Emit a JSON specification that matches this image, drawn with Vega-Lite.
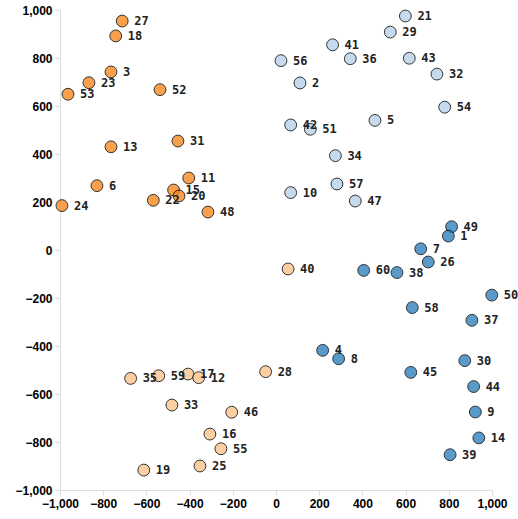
{
  "$schema": "https://vega.github.io/schema/vega-lite/v6.json",
  "width": 432,
  "height": 480,
  "autosize": "none",
  "padding": {"left": 60, "top": 10, "right": 26, "bottom": 29},
  "background": "white",
  "config": {"view": {"stroke": null}},
  "data": {"values": [
    {"id": "27", "x": -712, "y": 954, "g": "A"},
    {"id": "18", "x": -742, "y": 892, "g": "A"},
    {"id": "3", "x": -764, "y": 742, "g": "A"},
    {"id": "23", "x": -866, "y": 697, "g": "A"},
    {"id": "53", "x": -963, "y": 649, "g": "A"},
    {"id": "52", "x": -537, "y": 668, "g": "A"},
    {"id": "31", "x": -454, "y": 454, "g": "A"},
    {"id": "13", "x": -764, "y": 430, "g": "A"},
    {"id": "6", "x": -829, "y": 268, "g": "A"},
    {"id": "11", "x": -404, "y": 300, "g": "A"},
    {"id": "15", "x": -474, "y": 250, "g": "A"},
    {"id": "20", "x": -449, "y": 225, "g": "A"},
    {"id": "22", "x": -568, "y": 207, "g": "A"},
    {"id": "48", "x": -315, "y": 158, "g": "A"},
    {"id": "24", "x": -991, "y": 185, "g": "A"},
    {"id": "21", "x": 599, "y": 975, "g": "B"},
    {"id": "29", "x": 529, "y": 908, "g": "B"},
    {"id": "41", "x": 262, "y": 855, "g": "B"},
    {"id": "56", "x": 23, "y": 789, "g": "B"},
    {"id": "36", "x": 344, "y": 797, "g": "B"},
    {"id": "43", "x": 617, "y": 799, "g": "B"},
    {"id": "32", "x": 745, "y": 733, "g": "B"},
    {"id": "2", "x": 111, "y": 696, "g": "B"},
    {"id": "54", "x": 781, "y": 595, "g": "B"},
    {"id": "42", "x": 68, "y": 521, "g": "B"},
    {"id": "51", "x": 159, "y": 503, "g": "B"},
    {"id": "5", "x": 458, "y": 540, "g": "B"},
    {"id": "34", "x": 275, "y": 393, "g": "B"},
    {"id": "57", "x": 282, "y": 275, "g": "B"},
    {"id": "10", "x": 68, "y": 239, "g": "B"},
    {"id": "47", "x": 367, "y": 204, "g": "B"},
    {"id": "49", "x": 813, "y": 97, "g": "C"},
    {"id": "1", "x": 798, "y": 58, "g": "C"},
    {"id": "7", "x": 670, "y": 5, "g": "C"},
    {"id": "26", "x": 705, "y": -50, "g": "C"},
    {"id": "60", "x": 406, "y": -85, "g": "C"},
    {"id": "38", "x": 560, "y": -94, "g": "C"},
    {"id": "50", "x": 999, "y": -188, "g": "C"},
    {"id": "58", "x": 631, "y": -240, "g": "C"},
    {"id": "37", "x": 907, "y": -293, "g": "C"},
    {"id": "4", "x": 216, "y": -418, "g": "C"},
    {"id": "8", "x": 290, "y": -453, "g": "C"},
    {"id": "30", "x": 874, "y": -461, "g": "C"},
    {"id": "45", "x": 624, "y": -510, "g": "C"},
    {"id": "44", "x": 915, "y": -569, "g": "C"},
    {"id": "9", "x": 923, "y": -675, "g": "C"},
    {"id": "14", "x": 939, "y": -783, "g": "C"},
    {"id": "39", "x": 806, "y": -853, "g": "C"},
    {"id": "40", "x": 56, "y": -79, "g": "D"},
    {"id": "28", "x": -48, "y": -507, "g": "D"},
    {"id": "35", "x": -673, "y": -535, "g": "D"},
    {"id": "59", "x": -543, "y": -524, "g": "D"},
    {"id": "17", "x": -407, "y": -517, "g": "D"},
    {"id": "12", "x": -358, "y": -532, "g": "D"},
    {"id": "33", "x": -482, "y": -646, "g": "D"},
    {"id": "46", "x": -205, "y": -676, "g": "D"},
    {"id": "16", "x": -306, "y": -767, "g": "D"},
    {"id": "55", "x": -255, "y": -828, "g": "D"},
    {"id": "25", "x": -352, "y": -900, "g": "D"},
    {"id": "19", "x": -612, "y": -917, "g": "D"}
  ]},
  "encoding": {
    "x": {"field": "x", "type": "quantitative", "scale": {"domain": [-1000, 1000], "nice": false, "zero": false},
      "axis": {"title": null, "grid": false, "values": [-1000, -800, -600, -400, -200, 0, 200, 400, 600, 800, 1000], "format": ",.0f", "labelOverlap": false, "labelFlush": false, "domainColor": "#ddd", "tickColor": "#ddd", "labelFont": "Liberation Sans", "labelFontWeight": "bold", "labelFontSize": 12, "labelColor": "#000", "labelPadding": 3}},
    "y": {"field": "y", "type": "quantitative", "scale": {"domain": [-1000, 1000], "nice": false, "zero": false},
      "axis": {"title": null, "grid": false, "values": [-1000, -800, -600, -400, -200, 0, 200, 400, 600, 800, 1000], "format": ",.0f", "labelOverlap": false, "labelFlush": false, "domainColor": "#ddd", "tickColor": "#ddd", "labelFont": "Liberation Sans", "labelFontWeight": "bold", "labelFontSize": 12, "labelColor": "#000", "labelPadding": 3}}
  },
  "layer": [
    {
      "mark": {"type": "circle", "size": 140, "opacity": 0.8, "stroke": "#000", "strokeWidth": 1, "strokeOpacity": 1},
      "encoding": {
        "color": {"field": "g", "type": "nominal", "legend": null,
          "scale": {"domain": ["A", "B", "C", "D"], "range": ["#f7891f", "#b8d2eb", "#3182bd", "#fcc48b"]}}
      }
    },
    {
      "mark": {"type": "text", "align": "left", "baseline": "middle", "dx": 12, "font": "DejaVu Sans Mono", "fontWeight": "bold", "fontSize": 12, "fill": "#222"},
      "encoding": {"text": {"field": "id"}}
    }
  ]
}
